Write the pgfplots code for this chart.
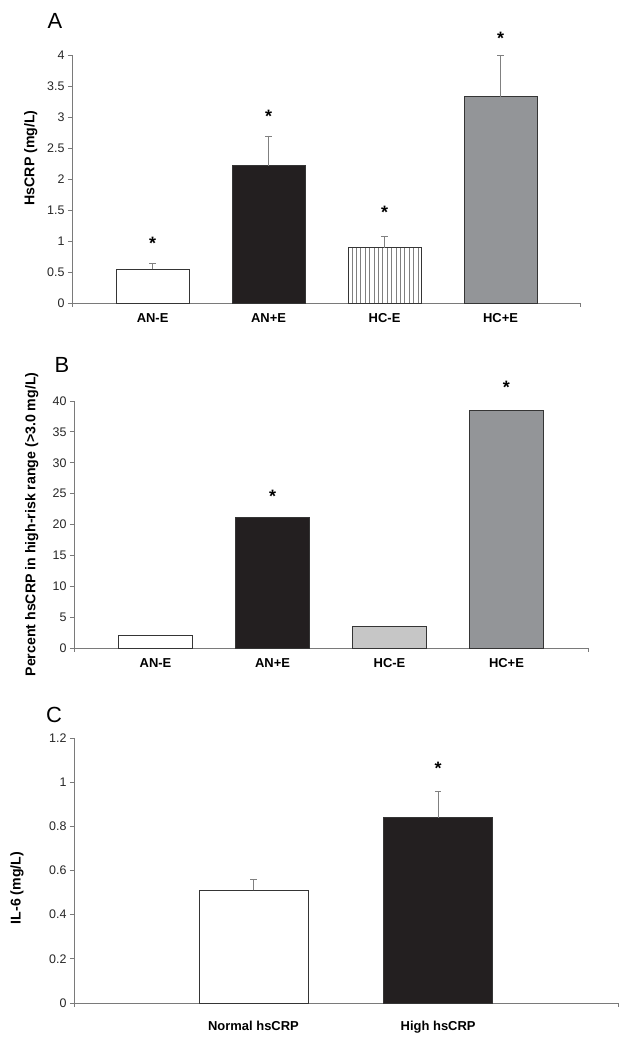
\documentclass[border=0pt]{standalone}
\usepackage{fontspec}
\setmainfont{Liberation Sans}
\usepackage{pgfplots}
\pgfplotsset{compat=1.18}
\usetikzlibrary{patterns.meta}
\definecolor{axgray}{HTML}{7A7A7A}
\definecolor{barline}{HTML}{353535}
\definecolor{barblack}{HTML}{231F20}
\definecolor{bargray}{HTML}{939598}
\definecolor{errgray}{HTML}{808080}
\definecolor{hatchgray}{HTML}{C6C6C6}
\tikzset{sigstar/.style={font=\bfseries\fontsize{18}{19}\selectfont, anchor=center, yshift=-4bp}}
\pgfplotsset{
  panel/.style={
    scale only axis,
    axis x line*=bottom, axis y line*=left,
    axis line style={-, draw=axgray, line width=0.8bp},
    tick align=outside, major tick length=4bp,
    tick style={draw=axgray, line width=0.8bp},
    xtick style={draw=none},
    ymin=0, clip=false,
    /pgf/number format/assume math mode=true,
    yticklabel style={font=\fontsize{12.5}{13}\selectfont, text=black!85},
    xticklabel style={font=\bfseries\fontsize{13}{14}\selectfont, text=black, yshift=-3bp},
    ylabel style={font=\bfseries\fontsize{14.2}{15}\selectfont, anchor=center},
  },
  bardef/.style={ybar, bar shift=0pt, draw=barline, line width=0.8bp},
  errdef/.style={/pgfplots/error bars/y dir=plus, /pgfplots/error bars/y explicit,
    /pgfplots/error bars/error bar style={draw=errgray, line width=0.8bp},
    /pgfplots/error bars/error mark options={rotate=90, mark size=3.2bp, draw=errgray, line width=0.8bp}},
}
\begin{document}
\begin{tikzpicture}
\useasboundingbox[fill=white] (0,0) rectangle (629bp,-1043bp);
% ---------------- Panel A
\begin{axis}[panel, at={(72bp,-303bp)}, anchor=south west,
  width=508bp, height=248bp,
  xmin=-0.695, xmax=3.685, ymax=4,
  ytick={0,0.5,...,4},
  xtick={0,1,2,3}, xticklabels={AN-E,AN+E,HC-E,HC+E},
  ylabel={HsCRP (mg/L)},
  ylabel style={at={(axis description cs:-0.081,0.585)}},
  bar width=0.63]
\addplot[bardef, fill=white, errdef] coordinates {(0,0.545) +- (0,0.092)};
\addplot[bardef, fill=barblack, errdef] coordinates {(1,2.213) +- (0,0.481)};
\addplot[bardef, fill=white,
  postaction={pattern={Lines[angle=90,distance=4.4bp,line width=0.7bp]}, pattern color=gray}, errdef]
  coordinates {(2,0.891) +- (0,0.189)};
\addplot[bardef, fill=bargray, errdef] coordinates {(3,3.33) +- (0,0.665)};
\node[sigstar] at (axis cs:0,1.03) {*};
\node[sigstar] at (axis cs:1,3.08) {*};
\node[sigstar] at (axis cs:2,1.52) {*};
\node[sigstar] at (axis cs:3,4.34) {*};
\draw[axgray, line width=0.8bp] (rel axis cs:0,0) -- ++(0pt,-4bp);
\draw[axgray, line width=0.8bp] (rel axis cs:1,0) -- ++(0pt,-4bp);
\end{axis}
\node[font=\fontsize{22}{24}\selectfont] at (55bp,-21bp) {A};
% ---------------- Panel B
\begin{axis}[panel, at={(74bp,-648bp)}, anchor=south west,
  width=514bp, height=247bp,
  xmin=-0.697, xmax=3.697, ymax=40,
  ytick={0,5,...,40},
  xtick={0,1,2,3}, xticklabels={AN-E,AN+E,HC-E,HC+E},
  ylabel={Percent hsCRP in high-risk range (>3.0 mg/L)},
  ylabel style={at={(axis description cs:-0.082,0.5)}},
  bar width=0.63]
\addplot[bardef, fill=white] coordinates {(0,2.05)};
\addplot[bardef, fill=barblack] coordinates {(1,21.08)};
\addplot[bardef, fill=hatchgray] coordinates {(2,3.56)};
\addplot[bardef, fill=bargray] coordinates {(3,38.5)};
\node[sigstar] at (axis cs:1,25.2) {*};
\node[sigstar] at (axis cs:3,42.8) {*};
\draw[axgray, line width=0.8bp] (rel axis cs:0,0) -- ++(0pt,-4bp);
\draw[axgray, line width=0.8bp] (rel axis cs:1,0) -- ++(0pt,-4bp);
\end{axis}
\node[font=\fontsize{22}{24}\selectfont] at (62bp,-365bp) {B};
% ---------------- Panel C
\begin{axis}[panel, at={(74bp,-1003bp)}, anchor=south west,
  width=544bp, height=265bp,
  xmin=-0.972, xmax=1.974, ymax=1.2,
  ytick={0,0.2,...,1.2},
  xtick={0,1}, xticklabels={Normal hsCRP,High hsCRP},
  xticklabel style={yshift=-8bp},
  ylabel={IL-6 (mg/L)},
  ylabel style={at={(axis description cs:-0.105,0.434)}},
  bar width=0.59]
\addplot[bardef, fill=white, errdef] coordinates {(0,0.51) +- (0,0.052)};
\addplot[bardef, fill=barblack, errdef] coordinates {(1,0.84) +- (0,0.12)};
\node[sigstar] at (axis cs:1,1.08) {*};
\draw[axgray, line width=0.8bp] (rel axis cs:0,0) -- ++(0pt,-4bp);
\draw[axgray, line width=0.8bp] (rel axis cs:1,0) -- ++(0pt,-4bp);
\end{axis}
\node[font=\fontsize{22}{24}\selectfont] at (54bp,-715bp) {C};
\end{tikzpicture}
\end{document}
